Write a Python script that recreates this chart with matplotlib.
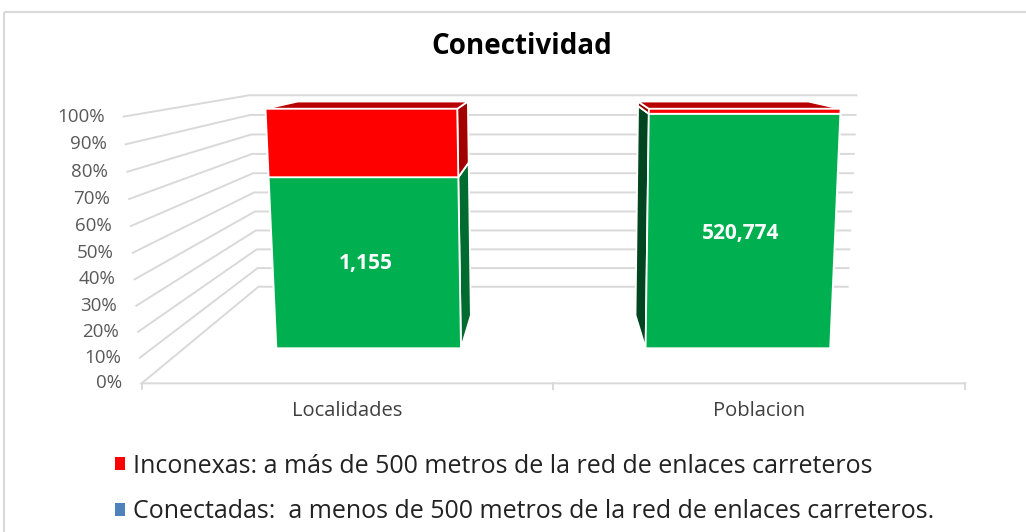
import numpy as np
import matplotlib.pyplot as plt
from matplotlib.patches import Polygon, Rectangle, Patch

# data
categorias = ['Localidades', 'Poblacion']
conectadas = [1155, 520774]
inconexas = [445, 10600]
ticks_pct = [0, 10, 20, 30, 40, 50, 60, 70, 80, 90, 100]
serie_labels = ['Inconexas: a más de 500 metros de la red de enlaces carreteros',
                'Conectadas:  a menos de 500 metros de la red de enlaces carreteros.']

# --- a fake 3D view like Excel's (world box 0..1 in x, pct 0..1, depth 0..1)
W = np.array([[0, 0, 0], [1, 0, 0], [0, 1, 0], [1, 1, 0],
              [0, 0, 1], [1, 0, 1], [0, 1, 1], [1, 1, 1]], float)
I = np.array([[142, 383], [965, 383], [123, 117], [983, 117],
              [258, 287], [848, 287], [250, 95], [856, 95]], float)
A = []
for (X, Y, Z), (u, v) in zip(W, I / 1000.0):
    A.append([X, Y, Z, 1, 0, 0, 0, 0, -u*X, -u*Y, -u*Z, -u])
    A.append([0, 0, 0, 0, X, Y, Z, 1, -v*X, -v*Y, -v*Z, -v])
P = np.linalg.svd(np.array(A))[2][-1].reshape(3, 4)


def proj(x, y, z):
    p = P @ np.array([x, y, z, 1.0])
    return p[0] / p[2] * 1000, p[1] / p[2] * 1000


fig = plt.figure(figsize=(10.26, 5.32), dpi=100)
ax = fig.add_axes([0, 0, 1, 1])
ax.set_xlim(0, 1026)
ax.set_ylim(532, 0)
ax.axis('off')

ax.add_patch(Rectangle((4, 12), 1040, 540, fill=False, ec='#d9d9d9', lw=1.5))

grid_c = '#d9d9d9'
for t in ticks_pct:
    f = t / 100
    pts = [proj(0, f, 0), proj(0, f, 1), proj(1, f, 1)]
    ax.plot([p[0] for p in pts], [p[1] for p in pts], color=grid_c, lw=1.4, zorder=1)
    x0, y0 = proj(0, f, 0)
    ax.text(x0 - 19, y0, f'{t}%', ha='right', va='center', fontsize=13.5,
            color='#595959', family='Open Sans')

# floor front edge + ticks
a, b = proj(0, 0, 0), proj(1, 0, 0)
ax.plot([a[0], b[0]], [a[1], b[1]], color=grid_c, lw=1.4, zorder=1)
for xt in [0, 0.5, 1]:
    px, py = proj(xt, 0, 0)
    ax.plot([px, px], [py, py + 6], color=grid_c, lw=1.4, zorder=1)

ax.text(522, 47, 'Conectividad', ha='center', va='center', fontsize=20,
        fontweight='bold', color='black', family='Open Sans')

# bars
centros = [0.25, 0.75]
half_w = 0.125
z0, z1 = 0.29, 0.63
front_c = ['#00b050', '#ff0000']
top_c = ['#009a45', '#b80000']
right_c = ['#006b2e', '#a30000']
left_c = ['#00451f', '#8c0000']


def face(pts, color, zo):
    xy = [proj(*p) for p in pts]
    ax.add_patch(Polygon(xy, closed=True, fc=color, ec='white', lw=1.3, zorder=zo))


for i, cat in enumerate(categorias):
    total = conectadas[i] + inconexas[i]
    fracs = [conectadas[i] / total, inconexas[i] / total]
    xa, xb = centros[i] - half_w, centros[i] + half_w
    base = 0.0
    zo = 3
    for k, fr in enumerate(fracs):
        ya, yb = base, base + fr
        face([(xa, ya, z0), (xa, ya, z1), (xa, yb, z1), (xa, yb, z0)], left_c[k], zo)
        face([(xb, ya, z0), (xb, ya, z1), (xb, yb, z1), (xb, yb, z0)], right_c[k], zo)
        face([(xa, yb, z0), (xb, yb, z0), (xb, yb, z1), (xa, yb, z1)], top_c[k], zo)
        face([(xa, ya, z0), (xb, ya, z0), (xb, yb, z0), (xa, yb, z0)], front_c[k], zo)
        zo += 1
        base = yb
    lx, ly = proj(centros[i], fracs[0] / 2, z0)
    ax.text(lx, ly, f'{conectadas[i]:,}', ha='center', va='center', fontsize=15,
            fontweight='bold', color='white', family='Open Sans', zorder=10)
    cx, cy = proj(centros[i], 0, 0)
    ax.text(cx, cy + 28, cat, ha='center', va='center', fontsize=14.5,
            color='#404040', family='Open Sans')

handles = [Patch(fc='#ff0000'), Patch(fc='#4f81bd')]
ax.legend(handles, serie_labels, loc='upper left', bbox_to_anchor=(0.112, 0.147),
          frameon=False, borderpad=0, borderaxespad=0, handlelength=0.42,
          handleheight=0.42, handletextpad=0.32, labelspacing=0.82,
          prop={'family': 'Open Sans', 'size': 18}, labelcolor='#222222')

fig.savefig('out.png', dpi=100)
